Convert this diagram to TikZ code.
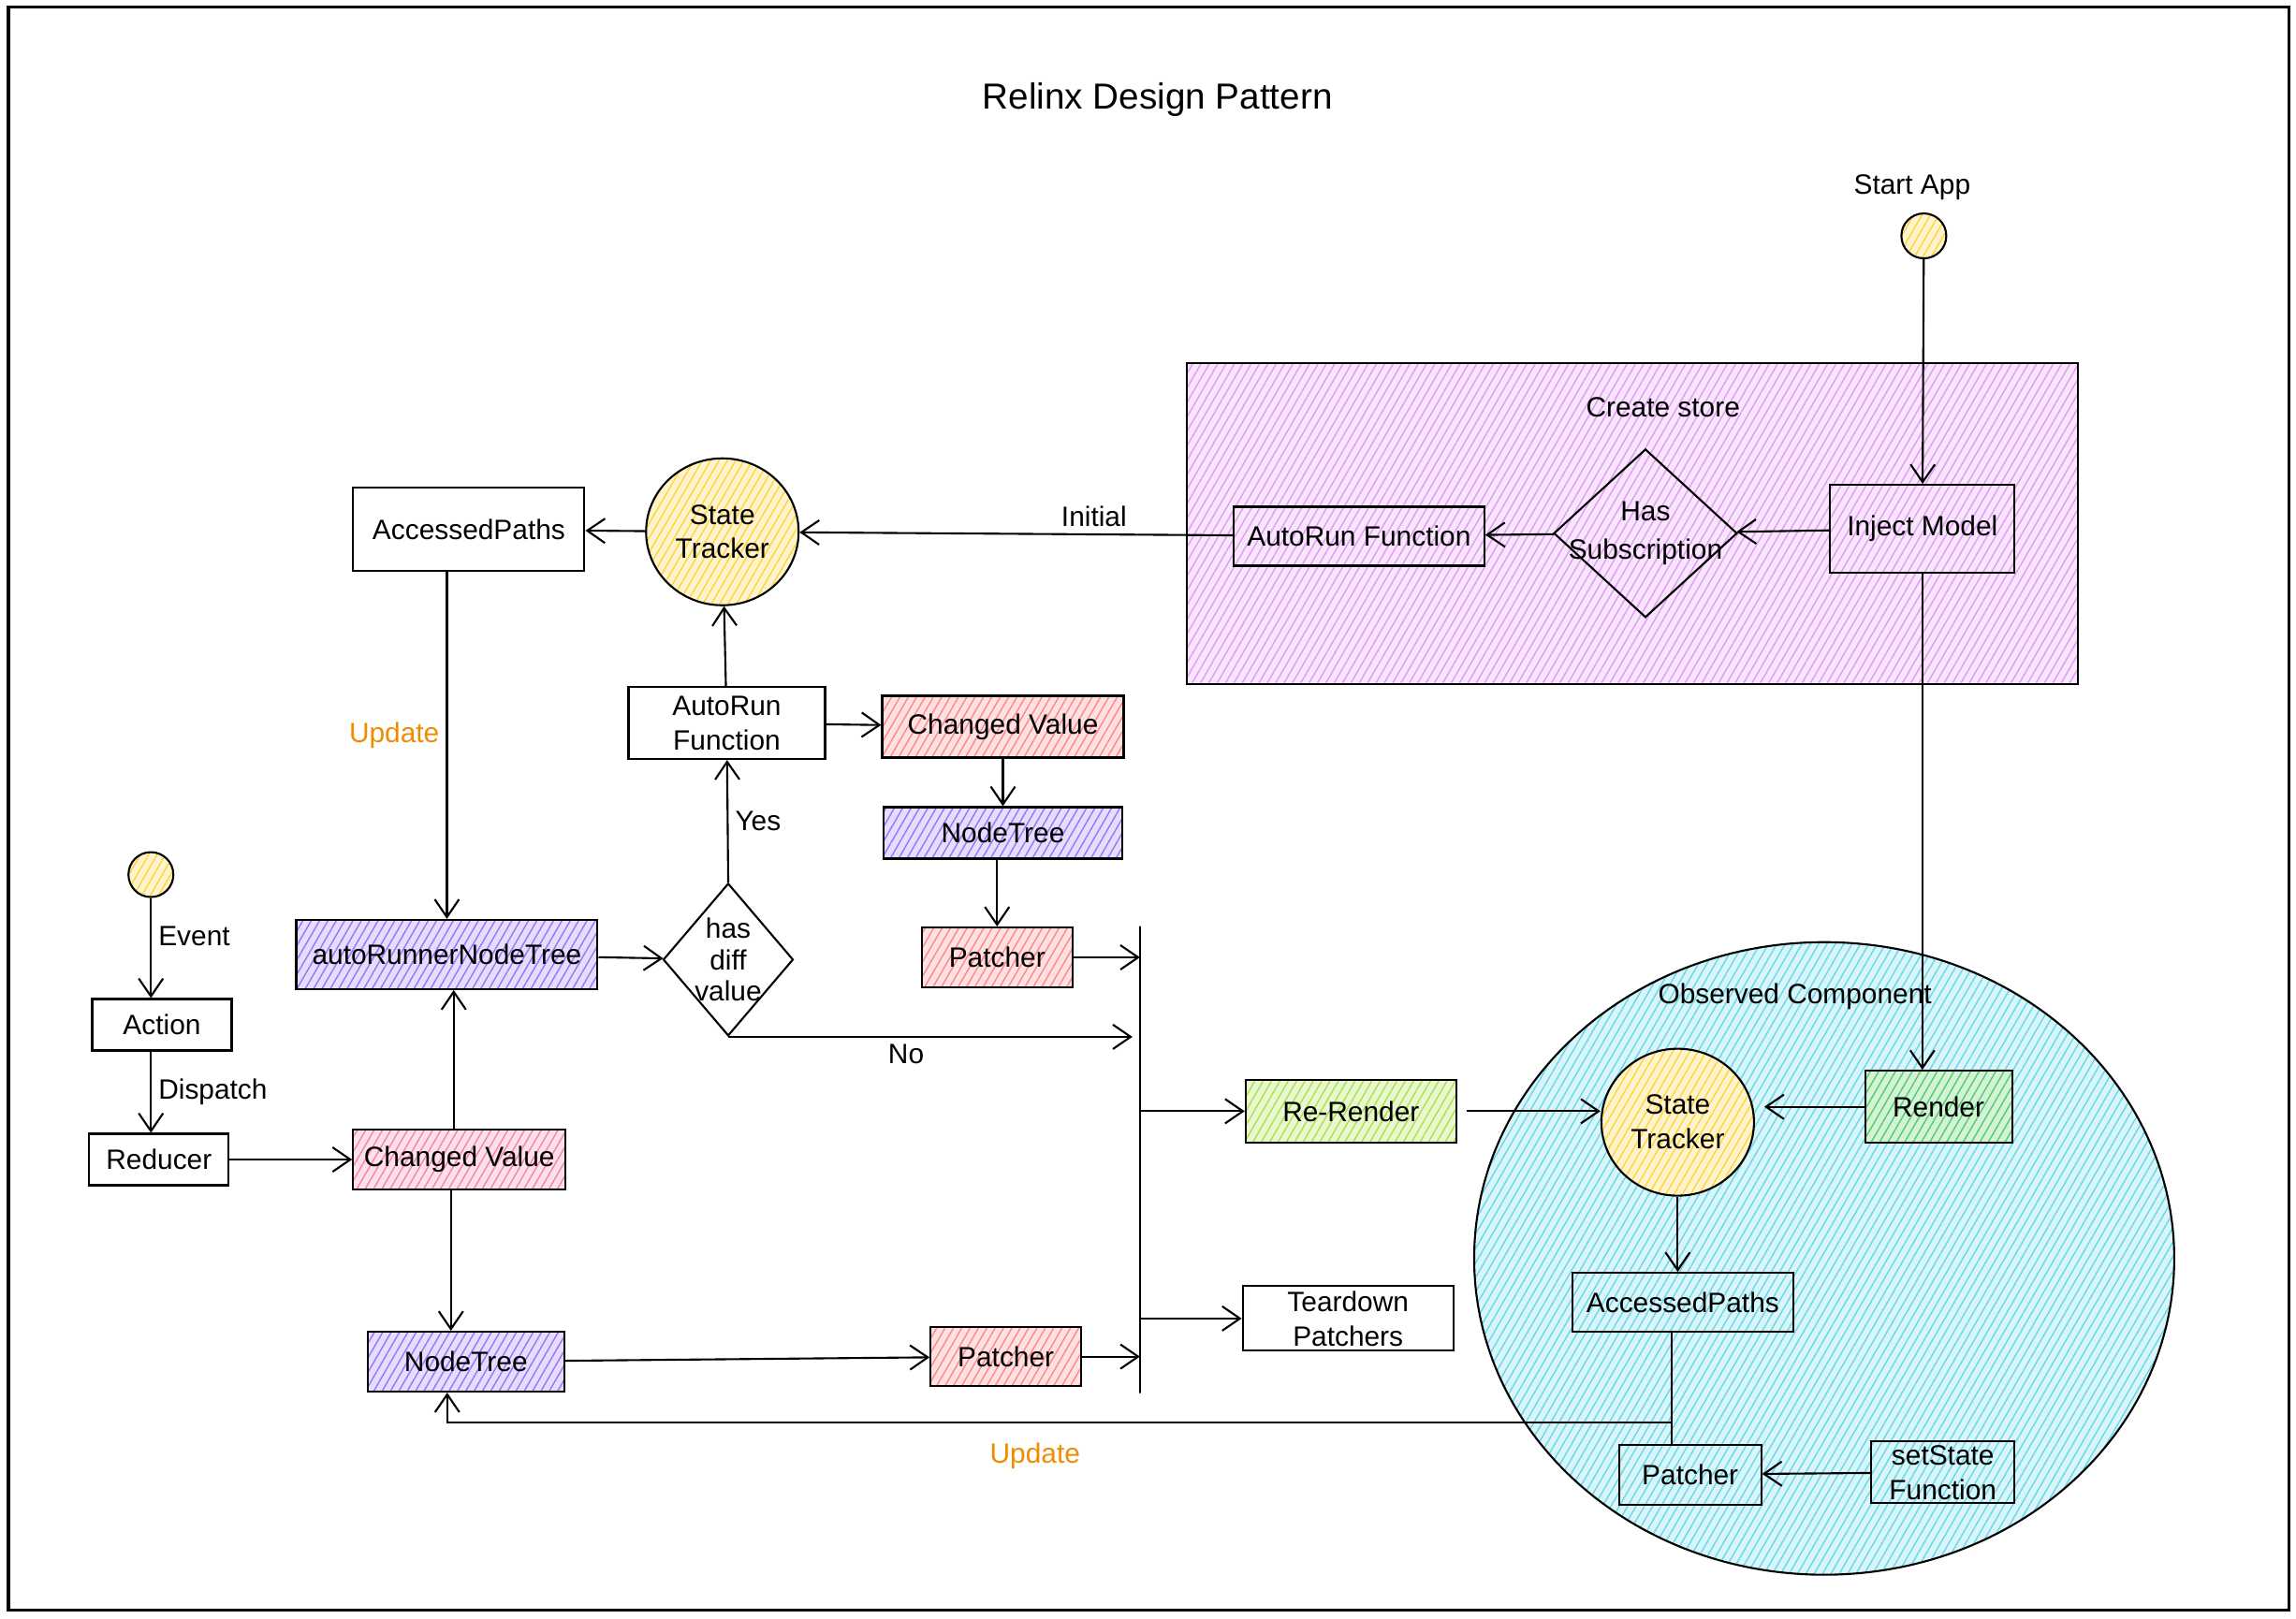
\documentclass[tikz,border=0pt]{standalone}
\usepackage{fontspec}
\setmainfont{Liberation Sans}
\usetikzlibrary{arrows.meta,shapes.geometric,patterns.meta}
\definecolor{grape}{HTML}{E599F7}
\definecolor{violet}{HTML}{9775FA}
\definecolor{redh}{HTML}{FF8787}
\definecolor{pinkh}{HTML}{F783AC}
\definecolor{lime}{HTML}{A9E34B}
\definecolor{greenh}{HTML}{51CF66}
\definecolor{cyanh}{HTML}{66D9E8}
\definecolor{sun}{HTML}{FFD43B}
\definecolor{orangey}{HTML}{F08C00}

\begin{document}
\begin{tikzpicture}[x=0.015655cm, y=-0.015655cm, line width=0.6pt,
  font=\fontsize{8.5}{10.5}\selectfont,
  >={Straight Barb[length=1.9mm,width=2.6mm]},
  hatch/.style={preaction={fill=#1!25}, pattern={Lines[angle=60,distance=2.2pt,line width=0.4pt]}, pattern color=#1},
  main/.style={draw, rectangle, inner sep=1pt, align=center},
  cond/.style={draw, diamond, inner sep=0pt},
  track/.style={draw, ellipse, inner sep=0pt, align=center, minimum width=1.63cm, minimum height=1.57cm, hatch=sun},
  dot/.style={draw, circle, inner sep=0pt, minimum size=0.48cm, hatch=sun},
  lbl/.style={inner sep=2pt}]
\useasboundingbox[fill=white] (0,0) rectangle (1567,1105);
\draw[line width=0.9pt] (5.7,5) rectangle (1562,1099);
\node (title) at (790,68) {\fontsize{11}{13}\selectfont Relinx Design Pattern};

\node[draw, rectangle, minimum width=9.52cm, minimum height=3.43cm, hatch=grape] (store) at (1114,357.5) {};
\node (storet) at (1135,278) {Create store};
\node[draw, ellipse, minimum width=7.48cm, minimum height=6.76cm, hatch=cyanh] (obs) at (1245,859) {};
\node (obst) at (1225,680) {Observed Component};

\node (startt) at (1305,128) {Start App};
\node[dot] (start) at (1313,161) {};
\node[main, minimum width=1.97cm, minimum height=0.94cm] (inject) at (1312,361) {Inject Model};
\node[cond, minimum width=1.96cm, minimum height=1.80cm, label={[align=center]center:Has\\[1pt]Subscription}] (hassub) at (1123,364) {};
\node[main, minimum width=2.68cm, minimum height=0.63cm] (arfa) at (927.5,366) {AutoRun Function};

\node[track] (sta) at (493,363) {State\\Tracker};
\node[main, minimum width=2.47cm, minimum height=0.89cm] (acca) at (320,361.5) {AccessedPaths};
\node[main, minimum width=2.10cm, minimum height=0.77cm] (arfb) at (496,493.5) {AutoRun\\Function};
\node[main, minimum width=2.58cm, minimum height=0.66cm, hatch=redh] (cva) at (684.5,496) {Changed Value};
\node[main, minimum width=2.55cm, minimum height=0.55cm, hatch=violet] (nta) at (684.5,568.5) {NodeTree};
\node[main, minimum width=1.61cm, minimum height=0.64cm, hatch=redh] (pata) at (680.5,653.5) {Patcher};
\node[main, minimum width=3.22cm, minimum height=0.74cm, hatch=violet] (arnt) at (305,651.5) {autoRunnerNodeTree};
\node[cond, minimum width=1.39cm, minimum height=1.63cm, label={[align=center, font=\fontsize{8.5}{9.5}\selectfont]center:has\\diff\\value}] (diff) at (497,655) {};
\node[draw, rectangle, minimum width=0pt, minimum height=4.99cm, inner sep=0pt] (bar) at (778,791.5) {};
\node[main, minimum width=2.25cm, minimum height=0.67cm, hatch=lime] (rerender) at (922,758.5) {Re-Render};
\node[main, minimum width=2.25cm, minimum height=0.69cm] (teardown) at (920,900) {Teardown\\Patchers};

\node[dot] (evt) at (103,597) {};
\node[main, minimum width=1.49cm, minimum height=0.55cm] (action) at (110.5,699.5) {Action};
\node[main, minimum width=1.49cm, minimum height=0.55cm] (reducer) at (108.5,791.5) {Reducer};
\node[main, minimum width=2.27cm, minimum height=0.64cm, hatch=pinkh] (cvb) at (313.5,791.5) {Changed Value};
\node[main, minimum width=2.10cm, minimum height=0.64cm, hatch=violet] (ntb) at (318,929.5) {NodeTree};
\node[main, minimum width=1.61cm, minimum height=0.63cm, hatch=redh] (patc) at (686.5,926) {Patcher};

\node[track] (stb) at (1145,766) {State\\Tracker};
\node[main, minimum width=1.57cm, minimum height=0.77cm, hatch=greenh] (render) at (1323,755.5) {Render};
\node[main, minimum width=2.36cm, minimum height=0.63cm] (accb) at (1148.5,889) {AccessedPaths};
\node[main, minimum width=1.52cm, minimum height=0.64cm] (patb) at (1153.5,1006.5) {Patcher};
\node[main, minimum width=1.53cm, minimum height=0.66cm] (setstate) at (1326,1005) {setState\\Function};
\coordinate (upd) at (1141,971);

\draw[->] (start) -- (inject);
\draw[->] (inject) -- (hassub);
\draw[->] (hassub) -- (arfa);
\draw[->] (arfa) -- node[lbl, above, pos=0.32] {Initial} (sta);
\draw[->] (sta) -- (acca);
\draw[->] (acca.south -| arnt.north) -- node[lbl, left, pos=0.47, text=orangey] {Update} (arnt.north);
\draw[->] (arnt) -- (diff);
\draw[->] (diff.north) -- node[lbl, right] {Yes} (arfb);
\draw[->] (arfb) -- (sta);
\draw[->] (arfb) -- (cva);
\draw[->] (cva) -- (nta);
\draw[->] (nta.south -| pata) -- (pata);
\draw[->] (pata) -- (pata -| bar);
\draw[->] (diff.south) -- node[lbl, below, pos=0.44] {No} ([xshift=-0.08cm]diff.south -| bar);
\draw[->] (bar |- rerender) -- (rerender);
\draw[->] (bar |- teardown) -- (teardown);
\draw[->] ([xshift=0.1cm]rerender.east) -- (rerender.east -| stb.west);
\draw[->] (inject.south) -- (inject.south |- render.north);
\draw[->] (render.west) -- ([xshift=0.1cm]render.west -| stb.east);
\draw[->] (stb) -- (stb |- accb.north);
\draw (accb.south -| upd) -- (patb.north -| upd);
\draw[->] (setstate) -- (patb);
\draw[->] (upd) -| node[lbl, below, pos=0.26, inner sep=6pt, text=orangey] {Update} ([xshift=-0.2cm]ntb.south);
\draw[->] (evt) -- node[lbl, right, pos=0.38] {Event} (action.north -| evt);
\draw[->] (action.south -| evt) -- node[lbl, right] {Dispatch} (reducer.north -| evt);
\draw[->] (reducer) -- (cvb);
\draw[->] ([xshift=-0.06cm]cvb.north) -- ([xshift=-0.06cm]cvb.north |- arnt.south);
\draw[->] ([xshift=-0.09cm]cvb.south) -- ([xshift=-0.09cm]cvb.south |- ntb.north);
\draw[->] (ntb) -- (patc);
\draw[->] (patc) -- (patc -| bar);
\end{tikzpicture}
\end{document}
